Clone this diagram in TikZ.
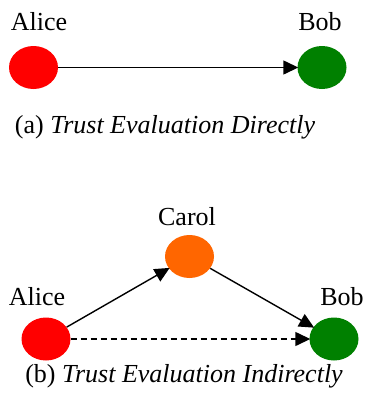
\documentclass[tikz,border=0pt]{standalone}
\usepackage{fontspec}
\setmainfont{Liberation Serif}
\newfontfamily\tnr{Liberation Serif}
\usetikzlibrary{shapes.geometric,arrows.meta}
\tikzset{
  person/.style={ellipse,minimum width=49pt,minimum height=43pt,inner sep=0pt},
  lbl/.style={anchor=base,inner sep=0pt,font=\tnr\fontsize{26}{28}\selectfont},
  captxt/.style={anchor=base,inner sep=0pt,font=\tnr\fontsize{26}{28}\selectfont},
  link/.style={line width=1.4pt,-{Triangle[length=15pt,width=14pt]},shorten >=-1pt},
}
\definecolor{cred}{HTML}{FF0000}
\definecolor{cgreen}{HTML}{008000}
\definecolor{corange}{HTML}{FF6600}
\begin{document}
\begin{tikzpicture}[x=1pt,y=-1pt]
\useasboundingbox (0,0) rectangle (366,394);
% (a)
\node[person,fill=cred] (a1) at (33.5,67.5) {};
\node[person,fill=cgreen] (b1) at (322,67.5) {};
\node[lbl] (la1) at (39,30) {Alice};
\node[lbl] (lb1) at (320,30) {Bob};
\draw[link] (a1) -- (b1);
\node[captxt] (ca) at (165,133) {(a) {\itshape Trust Evaluation Directly}};
% (b)
\node[person,fill=cred] (a2) at (46,339) {};
\node[person,fill=corange] (c2) at (189.5,256.5) {};
\node[person,fill=cgreen] (b2) at (334,339) {};
\node[lbl] (la2) at (37,305) {Alice};
\node[lbl] (lc2) at (187,225) {Carol};
\node[lbl] (lb2) at (342,305) {Bob};
\draw[link] (a2) -- (c2);
\draw[link] (c2) -- (b2);
\draw[link,dash pattern=on 6pt off 4pt] (a2) -- (b2);
\node[captxt] (cb) at (184,382) {(b) {\itshape Trust Evaluation Indirectly}};
\end{tikzpicture}
\end{document}
